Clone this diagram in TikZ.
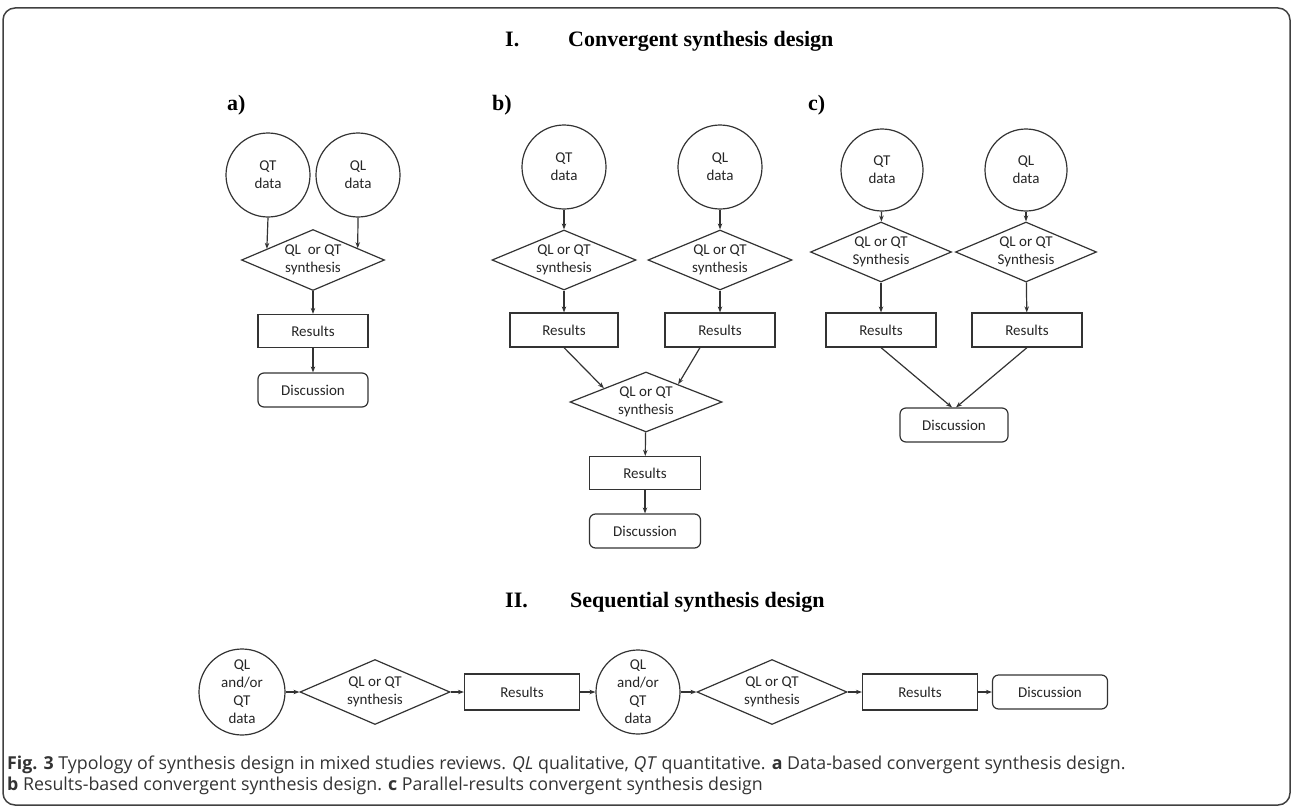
\documentclass[tikz,border=0pt]{standalone}
\usepackage{fontspec}
\setmainfont{Carlito}
\newfontfamily\headfont{Liberation Serif}
\newfontfamily\capfont{Open Sans}
\usetikzlibrary{shapes.geometric,arrows.meta,calc}

\begin{document}
\begin{tikzpicture}[x=1pt,y=-1pt,
  every node/.style={font=\fontsize{15}{18}\selectfont, text=black!85},
  line/.style={draw=black!80, line width=1.2pt},
  arr/.style={line, -{Stealth[length=6pt,width=4.5pt]}},
  datanode/.style={line, circle, minimum size=84pt, inner sep=0pt, align=center},
  synnode/.style={line, diamond, aspect=2.3, inner sep=0pt, minimum width=144pt, minimum height=60pt, align=center},
  resnode/.style={line, rectangle, minimum width=110pt, minimum height=34pt, inner sep=0pt},
  disnode/.style={resnode, rounded corners=6pt},
  heading/.style={font=\headfont\bfseries\fontsize{22}{26}\selectfont, text=black, anchor=base west, inner sep=0pt},
  captext/.style={font=\capfont\fontsize{17.8}{21}\selectfont, text=black!80, anchor=base west, inner sep=0pt}]
\useasboundingbox (0,0) rectangle (1292,808);
\draw[black!75, line width=1.5pt, rounded corners=12pt] (3,8) rectangle (1290,805);

\node[heading] (t1num) at (505,47) {I.};
\node[heading] (t1) at (568,47) {Convergent synthesis design};
\node[heading] (la) at (227,110) {a)};
\node[heading] (lb) at (492,110) {b)};
\node[heading] (lc) at (808,110) {c)};

\node[datanode] (aQT) at (268,175) {QT\\data};
\node[datanode] (aQL) at (358,175) {QL\\data};
\node[synnode, minimum width=143pt, minimum height=61pt] (aSyn) at (313,260) {QL\ \ or QT\\synthesis};
\node[resnode, minimum height=33pt] (aRes) at (313,331) {Results};
\node[disnode] (aDis) at (313,390) {Discussion};
\draw[arr] (aQT.south) -- ($(aSyn.west)!0.36!(aSyn.north)$);
\draw[arr] (aQL.south) -- ($(aSyn.north)!0.62!(aSyn.east)$);
\draw[arr] (aSyn.south) -- (aRes.north);
\draw[arr] (aRes.south) -- (aDis.north);

\node[datanode] (bQT) at (564,167) {QT\\data};
\node[datanode] (bQL) at (720,167) {QL\\data};
\node[synnode] (bSyn1) at (564,260) {QL or QT\\synthesis};
\node[synnode] (bSyn2) at (720,260) {QL or QT\\synthesis};
\node[resnode, minimum width=108pt] (bRes1) at (564,330) {Results};
\node[resnode] (bRes2) at (720,330) {Results};
\node[synnode, minimum width=152pt] (bSyn3) at (646,402) {QL or QT\\synthesis};
\node[resnode, minimum width=111pt, minimum height=33pt] (bRes3) at (645,473) {Results};
\node[disnode, minimum width=111pt] (bDis) at (645,531) {Discussion};
\draw[arr] (bQT) -- (bSyn1);
\draw[arr] (bQL) -- (bSyn2);
\draw[arr] (bSyn1) -- (bRes1);
\draw[arr] (bSyn2) -- (bRes2);
\draw[arr] (bRes1.south) -- ($(bSyn3.west)!0.45!(bSyn3.north)$);
\draw[arr] ([xshift=-20pt]bRes2.south) -- ($(bSyn3.north)!0.42!(bSyn3.east)$);
\draw[arr] (bSyn3) -- (bRes3);
\draw[arr] (bRes3) -- (bDis);

\node[datanode, minimum size=82pt] (cQT) at (882,170) {QT\\data};
\node[datanode, minimum size=82pt] (cQL) at (1026,170) {QL\\data};
\node[synnode, minimum width=141pt] (cSyn1) at (881,252) {QL or QT\\Synthesis};
\node[synnode, minimum width=141pt] (cSyn2) at (1026,252) {QL or QT\\Synthesis};
\node[resnode] (cRes1) at (881,330) {Results};
\node[resnode] (cRes2) at (1027,330) {Results};
\node[disnode, minimum width=108pt] (cDis) at (954,425) {Discussion};
\draw[arr] (cQT) -- (cSyn1);
\draw[arr] (cQL) -- (cSyn2);
\draw[arr] (cSyn1) -- (cRes1);
\draw[arr] (cSyn2) -- (cRes2);
\draw[arr] (cRes1.south) -- ([xshift=-2pt]cDis.north);
\draw[arr] (cRes2.south) -- ([xshift=2pt]cDis.north);

\node[heading] (t2num) at (505,607) {II.};
\node[heading] (t2) at (570,607) {Sequential synthesis design};

\node[datanode, minimum size=86pt] (sD1) at (242,692) {QL\\and/or\\QT\\data};
\node[synnode, minimum width=150pt, minimum height=65pt] (sSyn1) at (375,692) {QL or QT\\synthesis};
\node[resnode, minimum width=115pt, minimum height=36pt] (sRes1) at (522,692) {Results};
\node[datanode, minimum size=84pt] (sD2) at (638,692) {QL\\and/or\\QT\\data};
\node[synnode, minimum width=150pt, minimum height=65pt] (sSyn2) at (772,692) {QL or QT\\synthesis};
\node[resnode, minimum width=115pt, minimum height=36pt] (sRes2) at (920,692) {Results};
\node[disnode, minimum width=115pt] (sDis) at (1050,692) {Discussion};
\draw[arr] (sD1) -- (sSyn1);
\draw[arr] (sSyn1) -- (sRes1);
\draw[arr] (sRes1) -- (sD2);
\draw[arr] (sD2) -- (sSyn2);
\draw[arr] (sSyn2) -- (sRes2);
\draw[arr] (sRes2) -- (sDis);

\node[captext] (cap1) at (7,769) {\textbf{Fig. 3} Typology of synthesis design in mixed studies reviews. \textit{QL} qualitative, \textit{QT} quantitative. \textbf{a} Data-based convergent synthesis design.};
\node[captext] (cap2) at (7,790) {\textbf{b} Results-based convergent synthesis design. \textbf{c} Parallel-results convergent synthesis design};
\end{tikzpicture}
\end{document}
